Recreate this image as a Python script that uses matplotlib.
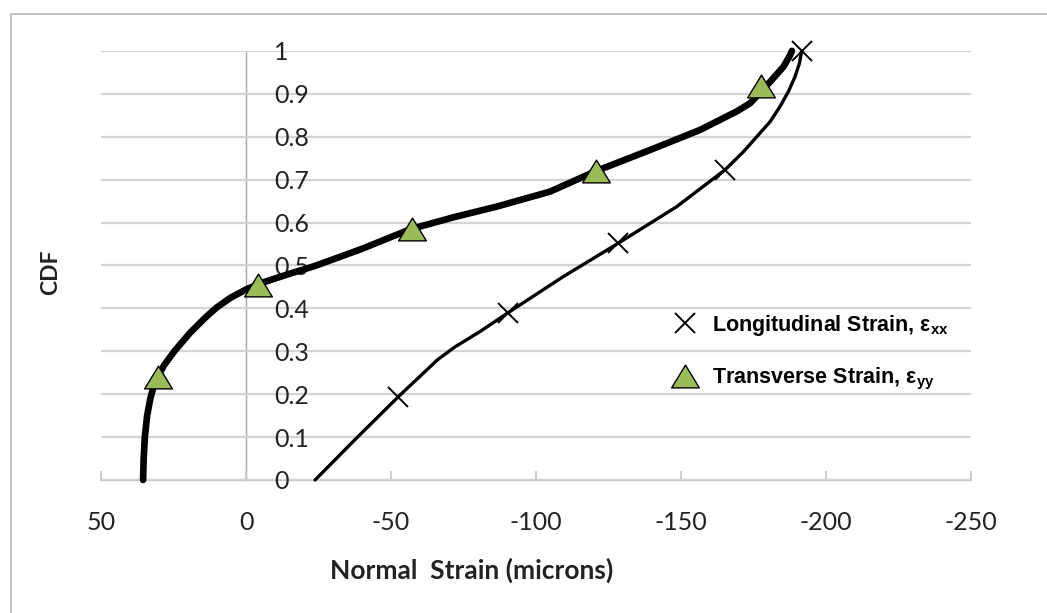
import matplotlib
matplotlib.use('Agg')
import matplotlib.pyplot as plt
from matplotlib.patches import Rectangle
from matplotlib.path import Path

plt.rcParams['axes.unicode_minus'] = False
plt.rcParams['mathtext.fontset'] = 'custom'
plt.rcParams['mathtext.rm'] = 'Liberation Sans'
plt.rcParams['mathtext.bf'] = 'Liberation Sans:bold'

# transverse strain (thick curve)
eyy_x = [35.5, 35.3, 34.9, 34.1, 33.0, 31.8, 30.5, 28.2, 24.6, 19.3, 14.1, 10.3, 5.5,
         -0.3, -6.6, -15.2, -23.4, -39.7, -56.9, -72.0, -86.4, -104.8, -120.7,
         -139.3, -156.6, -169.2, -173.8, -180.7, -185.3, -187.6, -188.2]
eyy_cdf = [0.0, 0.05, 0.1, 0.15, 0.19, 0.22, 0.24, 0.268, 0.301, 0.343, 0.378, 0.401,
           0.424, 0.445, 0.462, 0.481, 0.498, 0.538, 0.585, 0.613, 0.637, 0.672,
           0.72, 0.769, 0.816, 0.859, 0.878, 0.928, 0.963, 0.99, 1.0]
eyy_mark_x = [30.2, -4.2, -57.1, -120.7, -177.5]
eyy_mark_cdf = [0.24, 0.455, 0.585, 0.72, 0.918]

# longitudinal strain (thin curve)
exx_x = [-23.8, -38.0, -52.5, -66.0, -72.0, -80.7, -90.4, -109.4, -128.4, -148.5,
         -165.2, -171.5, -176.1, -180.7, -184.1, -187.0, -189.3, -190.8, -191.6]
exx_cdf = [0.0, 0.097, 0.194, 0.28, 0.31, 0.346, 0.39, 0.474, 0.552, 0.637,
           0.723, 0.765, 0.80, 0.835, 0.87, 0.905, 0.94, 0.971, 1.0]
exx_mark_x = [-52.5, -90.4, -128.4, -165.2, -191.6]
exx_mark_cdf = [0.194, 0.39, 0.552, 0.723, 1.0]

x_ticks = [50, 0, -50, -100, -150, -200, -250]
y_ticks = [0, 0.1, 0.2, 0.3, 0.4, 0.5, 0.6, 0.7, 0.8, 0.9, 1]
y_labels = ['0', '0.1', '0.2', '0.3', '0.4', '0.5', '0.6', '0.7', '0.8', '0.9', '1']

tri = Path([(-1, -0.82), (1, -0.82), (0, 0.82), (-1, -0.82)],
           [Path.MOVETO, Path.LINETO, Path.LINETO, Path.CLOSEPOLY])

fig = plt.figure(figsize=(10.47, 6.13), dpi=100)
ax = fig.add_axes([0.0965, 0.217, 0.831, 0.700])

ax.plot(exx_x, exx_cdf, color='black', lw=2.4, solid_capstyle='round',
        solid_joinstyle='round', clip_on=False, zorder=3)
ax.plot(eyy_x, eyy_cdf, color='black', lw=4.8, solid_capstyle='round',
        solid_joinstyle='round', clip_on=False, zorder=3)
ax.plot(exx_mark_x, exx_mark_cdf, ls='none', marker='x', ms=15, mew=1.4,
        color='black', clip_on=False, zorder=4,
        label=r'Longitudinal Strain, ε$_{\mathbf{xx}}$')
ax.plot(eyy_mark_x, eyy_mark_cdf, ls='none', marker=tri, ms=20, mew=1.0,
        mfc='#9bbb59', mec='black', clip_on=False, zorder=4,
        label=r'Transverse Strain, ε$_{\mathbf{yy}}$')

ax.set_xlim(50, -250)
ax.set_ylim(0, 1)
ax.set_xticks(x_ticks)
ax.set_yticks(y_ticks)
ax.set_yticklabels(y_labels)

ax.spines['top'].set_visible(False)
ax.spines['left'].set_visible(False)
ax.spines['right'].set_position(('data', 0))
ax.spines['right'].set_color('#a6a6a6')
ax.spines['right'].set_linewidth(1.0)
ax.spines['right'].set_zorder(0.4)
ax.spines['bottom'].set_color('#c8c8c8')
ax.spines['bottom'].set_linewidth(1.6)
ax.spines['bottom'].set_zorder(0.4)
ax.yaxis.tick_right()
ax.yaxis.grid(True, color='#d4d4d4', lw=1.6)
ax.set_axisbelow(True)

ax.tick_params(axis='y', length=0, pad=20, labelsize=18, labelcolor='#222222')
ax.tick_params(axis='x', direction='in', length=6.5, width=1.3, color='#c8c8c8',
               pad=22, labelsize=18, labelcolor='#222222')
for t in ax.get_xticklabels() + ax.get_yticklabels():
    t.set_fontfamily('Lato')

fig.text(0.450, 0.070, 'Normal  Strain (microns)', ha='center', va='center',
         fontsize=19, fontweight='bold', family='Lato', color='#222222')
fig.text(0.048, 0.556, 'CDF', ha='center', va='center', rotation=90,
         fontsize=16.5, fontweight='bold', family='Lato', color='#222222')

ax.legend(loc='center left', bbox_to_anchor=(0.640, 0.425),
          bbox_transform=fig.transFigure, frameon=False, borderpad=0,
          borderaxespad=0, handlelength=1.4, handletextpad=0.55,
          labelspacing=1.3, prop={'family': 'Liberation Sans', 'weight': 'bold', 'size': 15.5})

fig.add_artist(Rectangle((0.0105, -0.1), 1.2, 1.077, transform=fig.transFigure,
                         fill=False, edgecolor='#bdbdbd', lw=1.3))

fig.savefig('out.png', dpi=100)
